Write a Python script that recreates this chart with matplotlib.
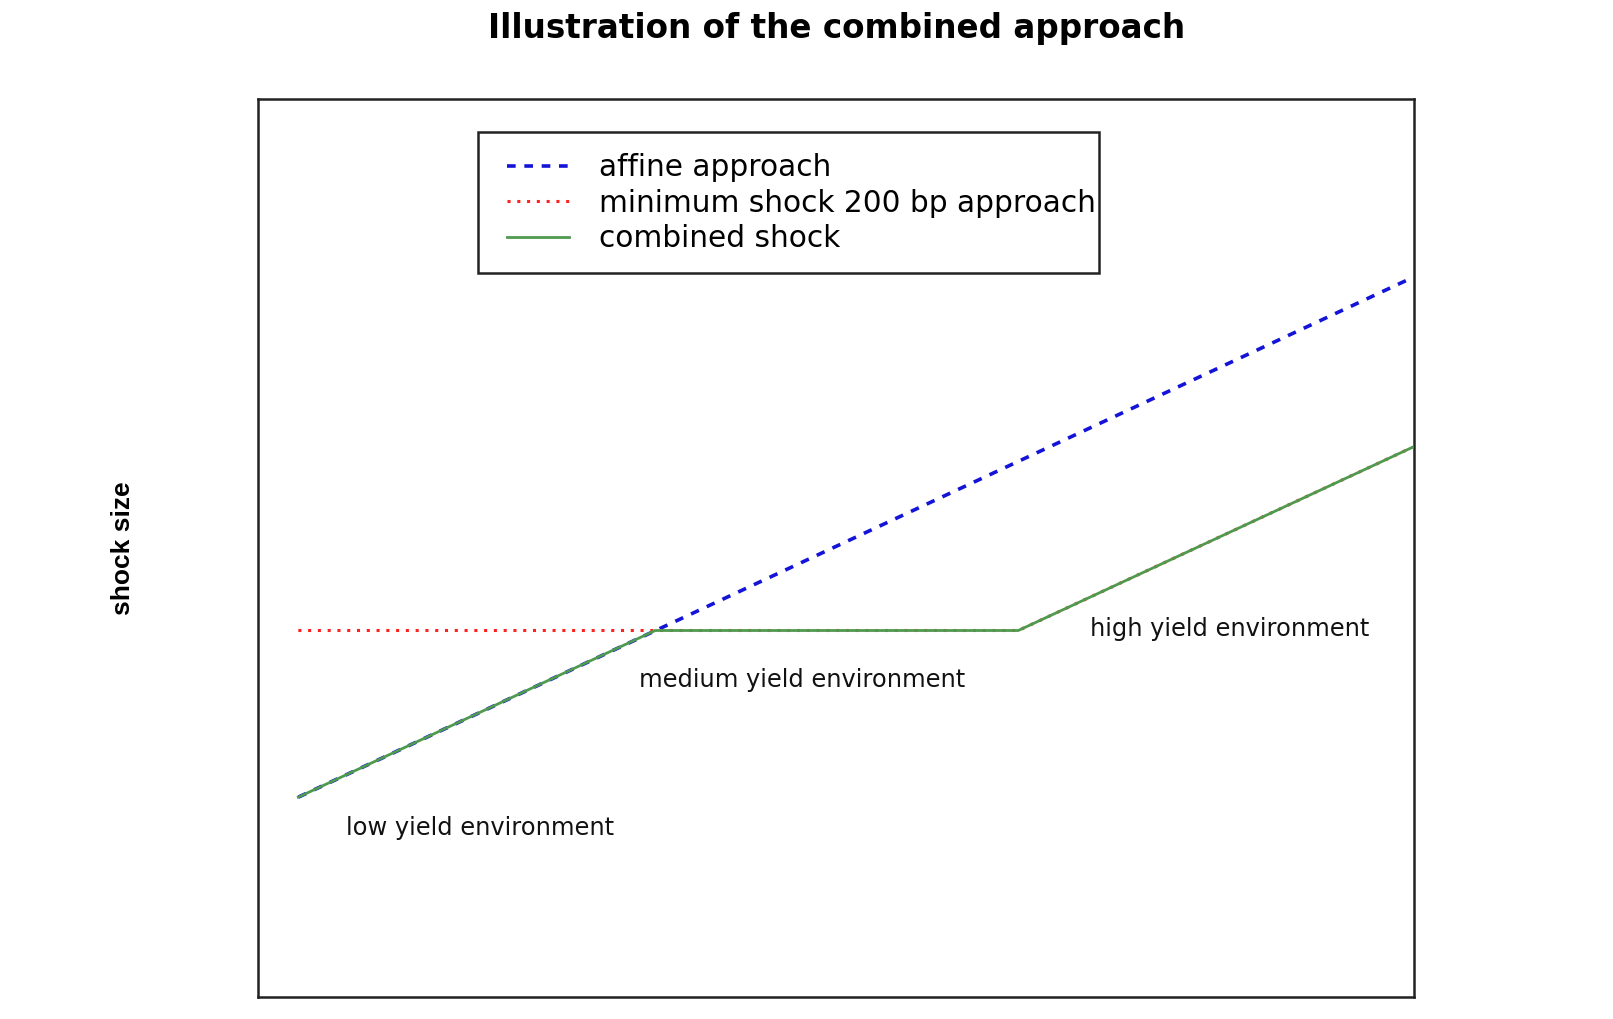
import matplotlib
matplotlib.use("Agg")
import matplotlib.pyplot as plt
from matplotlib.patches import Rectangle

plt.rcParams['font.family'] = ['DejaVu Sans']

# Data (arbitrary units)
affine_x = [0.39, 11.22]
affine_y = [1.94, 6.99]
min_x = [0.39, 7.39, 11.22]
min_y = [3.56, 3.56, 5.34]
comb_x = [0.39, 3.86, 7.39, 11.22]
comb_y = [1.94, 3.56, 3.56, 5.34]

labels = ["affine approach", "minimum shock 200 bp approach", "combined shock"]
ann_text = ["low yield environment", "medium yield environment", "high yield environment"]
ann_x = [0.85, 3.70, 8.09]
ann_y = [1.64, 3.08, 3.57]

W, H = 1613, 1019
L, R, T, B = 258.2, 1414.3, 98.7, 996.7

fig = plt.figure(figsize=(W/100, H/100), dpi=100)
ax = fig.add_axes([L/W, 1-B/H, (R-L)/W, (B-T)/H])

ax.plot(affine_x, affine_y, color="#1414d8", lw=2.6, dashes=(2.4, 2.4), label=labels[0], zorder=2)
ax.plot(min_x, min_y, color="#ff2020", lw=2.2, dashes=(1, 2.2), label=labels[1], zorder=2)
ax.plot(comb_x, comb_y, color="#4f9a4f", lw=2.0, label=labels[2], zorder=3)

for txt, x, y in zip(ann_text, ann_x, ann_y):
    ax.text(x, y, txt, fontsize=17.4, ha="left", va="center", color="#111111")

ax.set_xlim(0, 11.24)
ax.set_ylim(0, 8.73)
ax.set_xticks([])
ax.set_yticks([])
for s in ax.spines.values():
    s.set_linewidth(1.8)
    s.set_color("#222222")

ax.set_ylabel("shock size", fontsize=19, fontweight="bold", labelpad=89,
              family=["Liberation Sans", "DejaVu Sans"])

fig.suptitle("Illustration of the combined approach", fontsize=23.5, fontweight="bold",
             x=(L+R)/2/W, y=1-28.5/H, va="center")

def ax_x(px):
    return (px - L)/(R - L)

def ax_y(py):
    return (B - py)/(B - T)

# legend frame
bx0, bx1, by0, by1 = 478.0, 1098.6, 131.7, 272.6
ax.add_patch(Rectangle((ax_x(bx0), ax_y(by1)), ax_x(bx1)-ax_x(bx0), ax_y(by0)-ax_y(by1),
                       transform=ax.transAxes, fill=True, facecolor="white",
                       edgecolor="#222222", lw=1.8, zorder=4))

leg = ax.legend(loc="upper left", bbox_to_anchor=(ax_x(507), ax_y(153)),
                fontsize=21.3, frameon=False, handlelength=2.08, handletextpad=1.04,
                borderpad=0, labelspacing=0.22, borderaxespad=0)
leg.set_zorder(5)

fig.savefig("out.png", dpi=100)
